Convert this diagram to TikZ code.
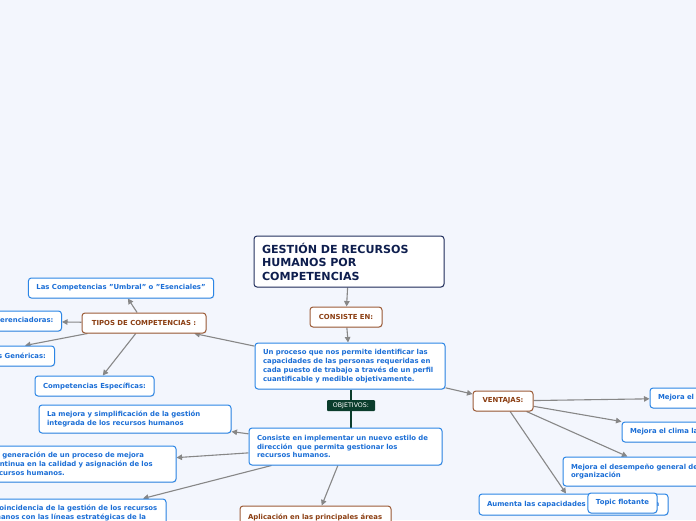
\documentclass[tikz,border=0pt]{standalone}
\usepackage{fontspec}
\setmainfont{DejaVu Sans}
\usetikzlibrary{arrows.meta,shadows}
\definecolor{bgc}{HTML}{F3F6FD}
\definecolor{bluetext}{HTML}{1B6ED6}
\definecolor{blueborder}{HTML}{2C86E6}
\definecolor{browntext}{HTML}{8B3E12}
\definecolor{brownborder}{HTML}{9C5C38}
\definecolor{navytext}{HTML}{0E1E4E}
\definecolor{navyborder}{HTML}{22305E}
\definecolor{objgreen}{HTML}{0B3D2C}
\definecolor{linegray}{HTML}{878787}
\pgfdeclarelayer{back}
\pgfdeclarelayer{lines}
\pgfsetlayers{back,lines,main}
\newcommand{\lnbox}[1]{\mbox{#1}}
\begin{document}
\begin{tikzpicture}[x=1pt,y=-1pt,
  base/.style={draw, rounded corners=3pt, fill=white, line width=1pt, inner xsep=8pt, inner ysep=0pt,
    font=\bfseries\fontsize{6.9}{8.8}\selectfont,
    drop shadow={opacity=0.18, shadow xshift=0.6pt, shadow yshift=-0.8pt}},
  bluebox/.style={base, draw=blueborder, text=bluetext, align=left},
  brownbox/.style={base, draw=brownborder, text=browntext, align=center},
  navybox/.style={base, draw=navyborder, text=navytext, align=left,
    font=\bfseries\fontsize{11.1}{13.5}\selectfont},
  arr/.style={draw=linegray, line width=1.1pt, -{Triangle[length=5.5pt,width=5.5pt]}, fill=none},
]
\useasboundingbox (0,0) rectangle (696,520);
\begin{pgfonlayer}{back}
  \fill[bgc] (0,0) rectangle (696,520);
\end{pgfonlayer}

% nodes
\node[navybox, minimum width=190pt, minimum height=51pt, text width=174pt] (main) at (349,261.5)
  {\lnbox{GESTIÓN DE RECURSOS}\\\lnbox{HUMANOS POR}\\\lnbox{COMPETENCIAS}};
\node[brownbox, minimum width=72pt, minimum height=20pt] (consiste) at (346,317) {CONSISTE EN:};
\node[bluebox, minimum width=190pt, minimum height=46pt, text width=174pt] (proceso) at (350,366)
  {\lnbox{Un proceso que nos permite identificar las}\\\lnbox{capacidades de las personas requeridas en}\\\lnbox{cada puesto de trabajo a través de un perfil}\\\lnbox{cuantificable y medible objetivamente.}};
\node[bluebox, minimum width=193pt, minimum height=37pt, text width=177pt] (consiste2) at (345.5,446.5)
  {\lnbox{Consiste en implementar un nuevo estilo de}\\\lnbox{dirección\ \ que permita gestionar los}\\\lnbox{recursos humanos.}};
\node[brownbox, minimum width=124pt, minimum height=20pt] (tipos) at (144,323) {TIPOS DE COMPETENCIAS :};
\node[bluebox, minimum width=184pt, minimum height=20pt, align=center] (umbral) at (121,288)
  {Las Competencias "Umbral" o "Esenciales"};
\node[bluebox, minimum height=20pt, anchor=east] (difer) at (62,321) {Las Competencias Diferenciadoras:};
\node[bluebox, minimum height=20pt, anchor=east, inner xsep=8.5pt] (genericas) at (55,356) {Competencias Genéricas:};
\node[bluebox, minimum width=119pt, minimum height=20pt, align=center] (especificas) at (94.5,386) {Competencias Específicas:};
\node[bluebox, minimum width=192pt, minimum height=28pt, text width=176pt] (mejora) at (135,419)
  {\lnbox{La mejora y simplificación de la gestión}\\\lnbox{integrada de los recursos humanos}};
\node[bluebox, minimum width=193pt, minimum height=36pt, text width=177pt] (generacion) at (79.5,464)
  {\lnbox{La generación de un proceso de mejora}\\\lnbox{continua en la calidad y asignación de los}\\\lnbox{recursos humanos.}};
\node[bluebox, minimum width=190pt, minimum height=36pt, text width=174pt] (coincidencia) at (71,517)
  {\lnbox{La coincidencia de la gestión de los recursos}\\\lnbox{humanos con las líneas estratégicas de la}\\\lnbox{organización.}};
\node[brownbox, minimum width=151pt, minimum height=30pt, text width=135pt, align=left] (aplicacion) at (315.5,521)
  {\lnbox{Aplicación en las principales áreas}\\\mbox{}};
\node[brownbox, minimum width=60pt, minimum height=20pt] (ventajas) at (503,401) {VENTAJAS:};
\node[bluebox, minimum width=110pt, minimum height=20pt, text width=94pt] (mejora1) at (705,398) {Mejora el};
\node[bluebox, minimum width=120pt, minimum height=20pt, text width=104pt] (clima) at (682,432) {\lnbox{Mejora el clima laboral}};
\node[bluebox, minimum width=196pt, minimum height=29pt, text width=180pt] (desempeno) at (661,471.5)
  {\lnbox{Mejora el desempeño general de la}\\\lnbox{organización}};
\node[bluebox, minimum width=189pt, minimum height=21pt, text width=173pt] (aumenta) at (573.5,504.5)
  {\lnbox{Aumenta las capacidades de la organización}};
\node[bluebox, minimum width=69pt, minimum height=20pt, align=center] (topic) at (622.5,503) {Topic flotante};
\node[fill=objgreen, text=white, font=\fontsize{6.3}{7}\selectfont, minimum width=48pt, minimum height=11pt,
  inner sep=0pt, rounded corners=1pt] (obj) at (351,405.5) {OBJETIVOS:};

% connectors
\begin{pgfonlayer}{lines}
  \draw[arr] (main) -- (consiste);
  \draw[arr] (consiste) -- (proceso);
  \draw[arr] (proceso) -- (tipos);
  \draw[arr] (tipos) -- (umbral);
  \draw[arr] (tipos) -- (difer);
  \draw[arr] ([xshift=6pt]tipos.south west) -- ([xshift=-30pt]genericas.north east);
  \draw[arr] (tipos) -- (especificas);
  \draw[objgreen, line width=1.3pt] (proceso.south -| obj.center) -- (consiste2.north -| obj.center);
  \draw[arr] (consiste2) -- (mejora);
  \draw[arr] (consiste2) -- (generacion);
  \draw[arr] (consiste2) -- (coincidencia);
  \draw[arr] (consiste2) -- (aplicacion);
  \draw[arr] (proceso) -- (ventajas);
  \draw[arr] (ventajas) -- (mejora1);
  \draw[arr] (ventajas) -- (clima);
  \draw[arr] (ventajas) -- (desempeno);
  \draw[arr] (ventajas) -- (aumenta);
\end{pgfonlayer}
\end{tikzpicture}
\end{document}
